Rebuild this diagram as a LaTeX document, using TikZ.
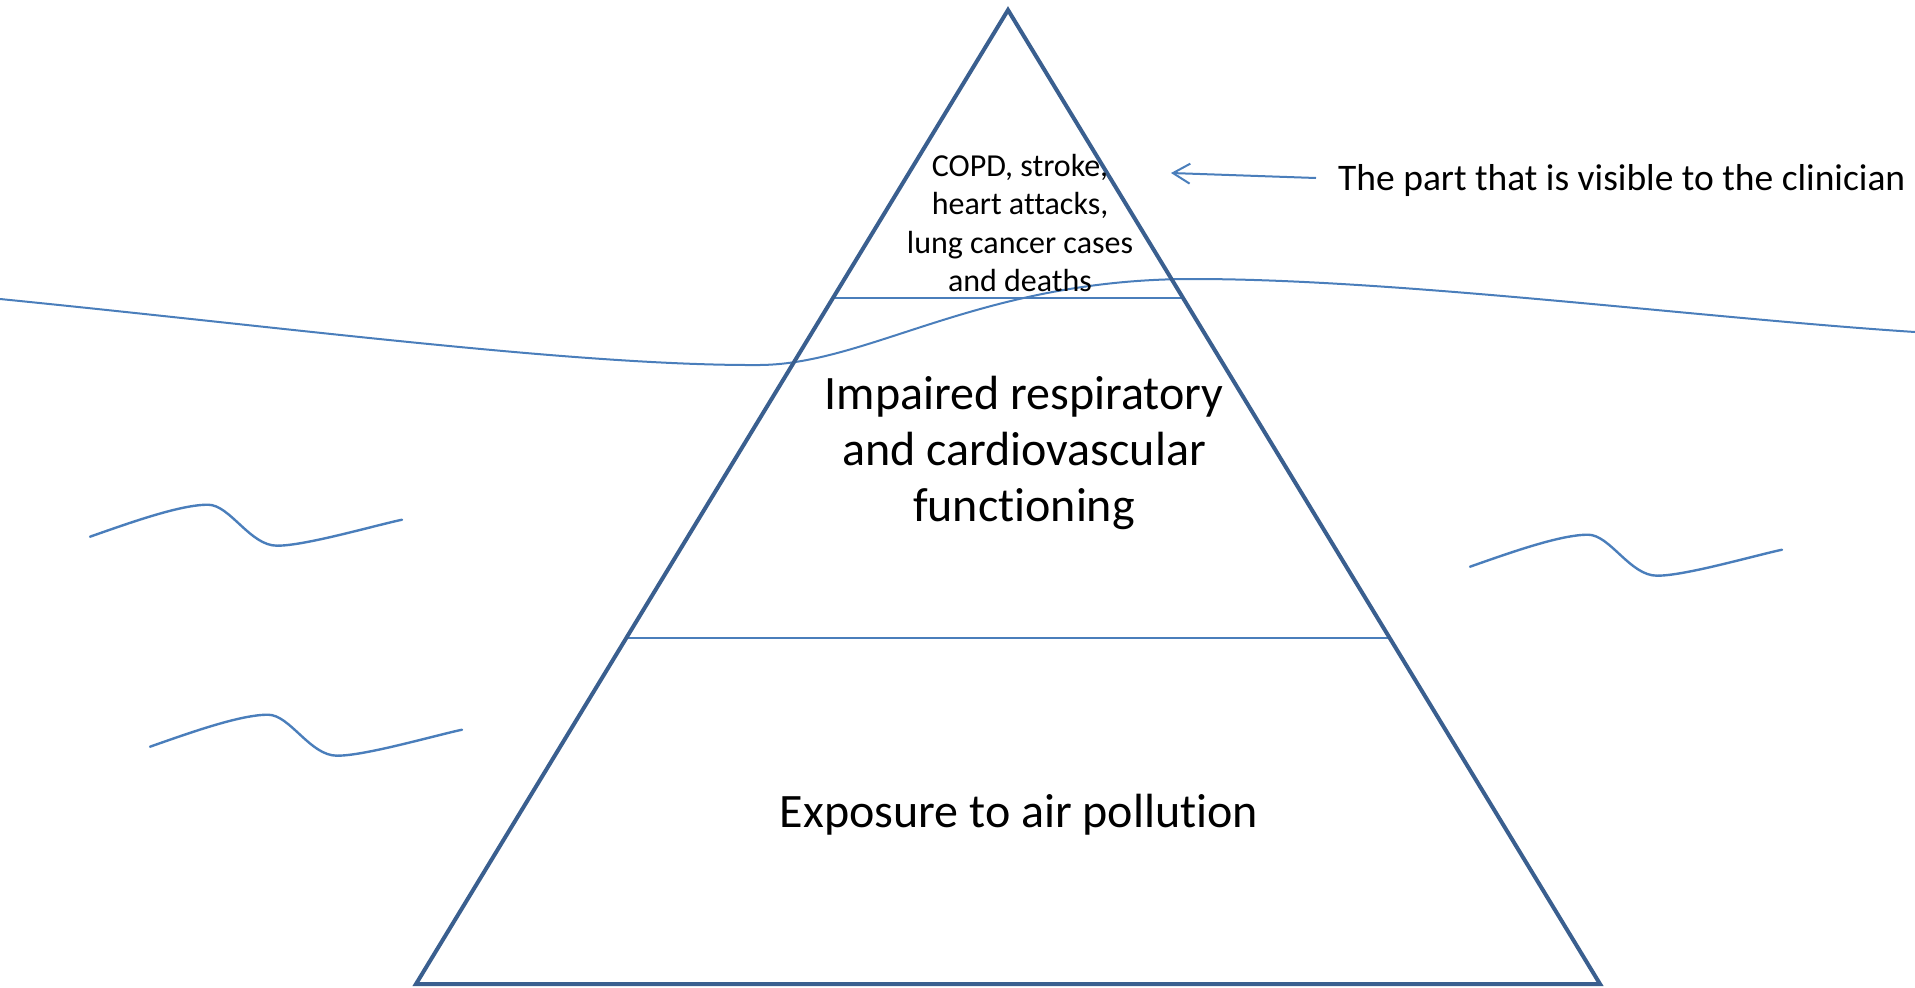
\documentclass[tikz,border=0pt]{standalone}
\usepackage{fontspec}
\setmainfont{Carlito}[Ligatures=NoCommon]
\usetikzlibrary{arrows.meta,calc}
\definecolor{tricol}{HTML}{3A5F8F}
\definecolor{linecol}{HTML}{4A7EBB}
\tikzset{
  tri/.style={draw=tricol,line width=4pt,line join=miter},
  thin/.style={draw=linecol,line width=2pt},
  wave/.style={draw=linecol,line width=2.4pt,line cap=round},
  small/.style={font=\fontsize{32}{38.3}\selectfont,align=center,inner sep=0pt},
  big/.style={font=\fontsize{48}{56.2}\selectfont,align=center,inner sep=0pt},
  side/.style={font=\fontsize{37.5}{44}\selectfont,inner sep=0pt,anchor=base west},
  pointer/.style={draw=linecol,line width=2pt,-{Straight Barb[length=17pt,width=20pt,line width=2pt]}}
}
\begin{document}
\begin{tikzpicture}[x=1pt,y=-1pt]
\useasboundingbox (0,0) rectangle (1915,988);
\coordinate (A) at (1008,10);
\coordinate (B) at (416,984);
\coordinate (C) at (1600,984);
% layer lines
\draw[thin] ($(A)!0.2957!(B)$) -- ($(A)!0.2957!(C)$);
\draw[thin] ($(A)!0.6443!(B)$) -- ($(A)!0.6443!(C)$);
% waterline
\draw[thin] (0,299) .. controls (300,329) and (580,366) .. (760,365)
  .. controls (870,364) and (980,279) .. (1193,279)
  .. controls (1400,279) and (1700,318) .. (1915,332);
% pyramid
\draw[tri] (A) -- (C) -- (B) -- cycle;
% small waves
\foreach \dx/\dy in {90/536.7, 150/746.7, 1470/566.7}{
  \draw[wave,shift={(\dx,\dy)}] (0,0) .. controls (40,-14) and (90,-32) .. (118,-32)
    .. controls (140,-32) and (160,9) .. (187,9)
    .. controls (215,9) and (280,-10) .. (312,-17);
}
% texts
\node[small] (top) at (1020,223) {COPD, stroke,\\heart attacks,\\lung cancer cases\\and deaths};
\node[big] (mid) at (1024,453) {Impaired respiratory\\and cardiovascular\\functioning};
\node[big] (bot) at (1019,815) {Exposure to air pollution};
\node[side] (vis) at (1338,190) {The part that is visible to the clinician};
\coordinate (tip) at (1171,173);
\coordinate (tail) at (1316,178);
\draw[pointer] (tail) -- (tip);
\end{tikzpicture}
\end{document}
